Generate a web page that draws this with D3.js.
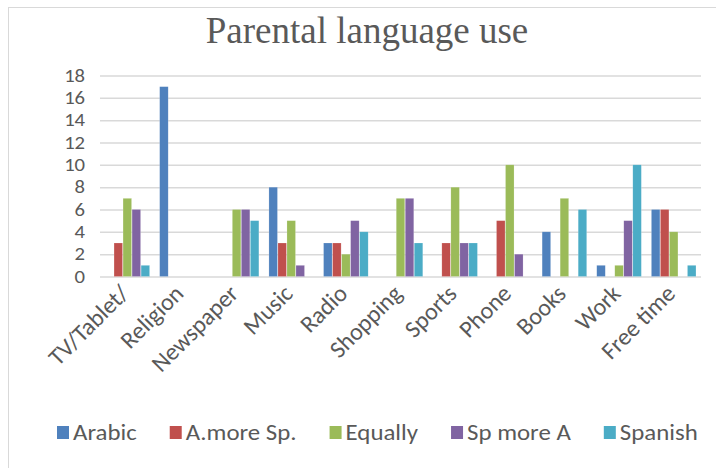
<!DOCTYPE html>
<html><head><meta charset="utf-8">
<script src="https://cdn.jsdelivr.net/npm/d3@7"></script>
<style>html,body{margin:0;padding:0;background:#fff;}svg{display:block;}</style>
</head><body>
<svg id="c" width="716" height="468"></svg>
<script>
const categories = ["TV/Tablet/","Religion","Newspaper","Music","Radio","Shopping","Sports","Phone","Books","Work","Free time"];
const seriesNames = ["Arabic","A.more Sp.","Equally","Sp more A","Spanish"];
const arabic   = [0,17,0,8,3,0,0,0,4,1,6];
const aMoreSp  = [3,0,0,3,3,0,3,5,0,0,6];
const equally  = [7,0,6,5,2,7,8,10,7,1,4];
const spMoreA  = [6,0,6,1,5,7,3,2,0,5,0];
const spanish  = [1,0,5,0,4,3,3,0,6,10,1];
const seriesValues = [arabic,aMoreSp,equally,spMoreA,spanish];
const colors = ["#4f81bd","#c0504d","#9bbb59","#8064a2","#4bacc6"];
const yTicks = [0,2,4,6,8,10,12,14,16,18];
const title = "Parental language use";

(function(){
const svg = d3.select("#c");
const fontSans = "Carlito, Lato, 'Open Sans', sans-serif";
const textColor = "#595959";

svg.append("rect").attr("x",8.5).attr("y",7.5).attr("width",716).attr("height",468)
  .attr("fill","none").attr("stroke","#d9d9d9").attr("stroke-width",1);

svg.append("text").attr("x",367).attr("y",43).attr("text-anchor","middle")
  .attr("font-family","'Liberation Serif','Times New Roman',serif").attr("font-size",37)
  .attr("fill",textColor).text(title);

const mLeft = 100, mRight = 701, mTop = 75.5, mBottom = 276.5;
const x0 = d3.scaleBand().domain(categories).range([mLeft,mRight]).paddingInner(0).paddingOuter(0);
const x1 = d3.scaleBand().domain(seriesNames).range([0,x0.bandwidth()]).paddingOuter(0.53).paddingInner(0);
const y = d3.scaleLinear().domain([0,18]).range([mBottom,mTop]);

const yAxis = d3.axisLeft(y).tickValues(yTicks).tickSize(-(mRight-mLeft)).tickPadding(13);
const gy = svg.append("g").attr("transform",`translate(${mLeft},0)`).call(yAxis);
gy.select(".domain").remove();
gy.selectAll(".tick line").attr("stroke","#d9d9d9").attr("stroke-width",1.5);
gy.selectAll(".tick text").attr("font-family",fontSans).attr("font-size",18).attr("fill",textColor)
  .attr("transform","translate(-14,0) scale(1.15,1) translate(12.2,0)");

const groups = svg.append("g").selectAll("g").data(categories).join("g")
  .attr("transform",d=>`translate(${x0(d)},0)`);
groups.selectAll("rect").data((d,i)=>seriesNames.map((s,j)=>({s,v:seriesValues[j][i],c:colors[j]})))
  .join("rect")
  .attr("x",d=>x1(d.s)+0.25).attr("width",x1.bandwidth()-0.5)
  .attr("y",d=>y(d.v)).attr("height",d=>y(0)-y(d.v))
  .attr("fill",d=>d.c).attr("stroke","#ffffff").attr("stroke-opacity",0.35).attr("stroke-width",0.5);

svg.append("g").selectAll("text").data(categories).join("text")
  .attr("transform",d=>`translate(${x0(d)+x0.bandwidth()/2+3},295) rotate(-45)`)
  .attr("text-anchor","end").attr("font-family",fontSans).attr("font-size",24)
  .attr("fill",textColor).text(d=>d);

// legend laid out from measured text widths
const lg = svg.append("g").attr("transform","translate(0,426)");
let lx = 57;
const stretch = 1.13;
seriesNames.forEach((name,i)=>{
  const g = lg.append("g").attr("transform",`translate(${lx},0)`);
  g.append("rect").attr("width",12).attr("height",13).attr("fill",colors[i]);
  const t = g.append("text").attr("transform",`translate(16,14) scale(${stretch},1)`)
    .attr("font-family",fontSans).attr("font-size",22)
    .attr("fill",textColor).text(name);
  lx += 16 + t.node().getComputedTextLength()*stretch + 33;
});
})();
</script>
</body></html>
